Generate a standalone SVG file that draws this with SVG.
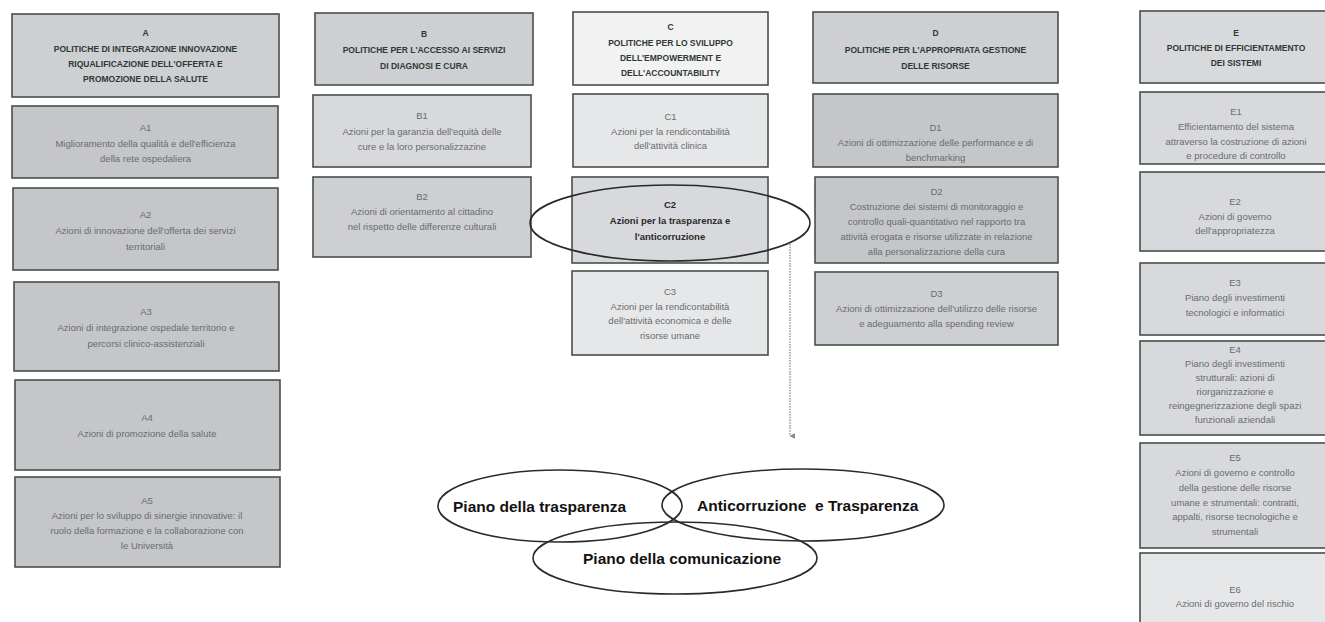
<svg xmlns="http://www.w3.org/2000/svg" width="1325" height="622" viewBox="0 0 1325 622">
<defs>
<style>
.bx{stroke:#48504a;stroke-width:1.6}
.h{font-family:"Liberation Sans",Arial,sans-serif;font-size:8.5px;font-weight:bold;fill:#2e3a32;text-anchor:middle}
.t{font-family:"Liberation Sans",Arial,sans-serif;font-size:9.5px;fill:#6a6c6e;text-anchor:middle}
.tb{font-family:"Liberation Sans",Arial,sans-serif;font-size:9.5px;font-weight:bold;fill:#2a2a2a;text-anchor:middle}
.el{fill:none;stroke:#2a2a2a;stroke-width:1.6}
.big{font-family:"Liberation Sans",Arial,sans-serif;font-size:15.5px;font-weight:bold;fill:#111}
.g1{fill:#c4c6c9}.g2{fill:#cdcfd2}.g3{fill:#d8d9dc}.g4{fill:#e6e7e9}.g5{fill:#f2f2f3}
</style>
<marker id="ah" viewBox="0 0 10 10" refX="5" refY="9" markerWidth="6" markerHeight="6" orient="auto-start-reverse" markerUnits="userSpaceOnUse">
<path d="M0,0 L10,0 L5,10 Z" fill="#888"/>
</marker>
</defs>
<rect width="1325" height="622" fill="#ffffff"/>

<g id="A">
<rect class="bx g2" x="12" y="14" width="267" height="83"/>
<text class="h"><tspan x="145.5" y="36">A</tspan><tspan x="145.5" y="52">POLITICHE DI INTEGRAZIONE INNOVAZIONE</tspan><tspan x="145.5" y="67">RIQUALIFICAZIONE DELL'OFFERTA E</tspan><tspan x="145.5" y="82">PROMOZIONE DELLA SALUTE</tspan></text>
</g>
<g id="A1">
<rect class="bx g1" x="12" y="106" width="266" height="72"/>
<text class="t"><tspan x="145.5" y="131.4">A1</tspan><tspan x="145.5" y="146.9">Miglioramento della qualità e dell'efficienza</tspan><tspan x="145.5" y="162.4">della rete ospedaliera</tspan></text>
</g>
<g id="A2">
<rect class="bx g1" x="13" y="188" width="265" height="82"/>
<text class="t"><tspan x="145.5" y="218.4">A2</tspan><tspan x="145.5" y="234.4">Azioni di innovazione dell'offerta dei servizi</tspan><tspan x="145.5" y="250.4">territoriali</tspan></text>
</g>
<g id="A3">
<rect class="bx g1" x="14" y="282" width="265" height="89"/>
<text class="t"><tspan x="146" y="315.4">A3</tspan><tspan x="146" y="331.4">Azioni di integrazione ospedale territorio e</tspan><tspan x="146" y="347.4">percorsi clinico-assistenziali</tspan></text>
</g>
<g id="A4">
<rect class="bx g1" x="15" y="380" width="265" height="90"/>
<text class="t"><tspan x="147" y="421.4">A4</tspan><tspan x="147" y="437.4">Azioni di promozione della salute</tspan></text>
</g>
<g id="A5">
<rect class="bx g1" x="15" y="477" width="265" height="90"/>
<text class="t"><tspan x="147" y="504.4">A5</tspan><tspan x="147" y="519.4">Azioni per lo sviluppo di sinergie innovative: il</tspan><tspan x="147" y="534.4">ruolo della formazione e la collaborazione con</tspan><tspan x="147" y="549.4">le Università</tspan></text>
</g>

<g id="B">
<rect class="bx g2" x="315" y="13" width="218" height="72"/>
<text class="h"><tspan x="424" y="37">B</tspan><tspan x="424" y="53">POLITICHE PER L'ACCESSO AI SERVIZI</tspan><tspan x="424" y="69">DI DIAGNOSI E CURA</tspan></text>
</g>
<g id="B1">
<rect class="bx g3" x="313" y="95" width="218" height="72"/>
<text class="t"><tspan x="422" y="119.4">B1</tspan><tspan x="422" y="134.9">Azioni per la garanzia dell'equità delle</tspan><tspan x="422" y="150.4">cure e la loro personalizzazine</tspan></text>
</g>
<g id="B2">
<rect class="bx g2" x="313" y="177" width="218" height="80"/>
<text class="t"><tspan x="422" y="200.4">B2</tspan><tspan x="422" y="215.4">Azioni di orientamento al cittadino</tspan><tspan x="422" y="230.4">nel rispetto delle differenze culturali</tspan></text>
</g>

<g id="C">
<rect class="bx g5" x="573" y="12" width="195" height="73"/>
<text class="h"><tspan x="670.5" y="30">C</tspan><tspan x="670.5" y="46">POLITICHE PER LO SVILUPPO</tspan><tspan x="670.5" y="61">DELL'EMPOWERMENT E</tspan><tspan x="670.5" y="76">DELL'ACCOUNTABILITY</tspan></text>
</g>
<g id="C1">
<rect class="bx g4" x="573" y="94" width="195" height="73"/>
<text class="t"><tspan x="670.5" y="120.4">C1</tspan><tspan x="670.5" y="135.4">Azioni per la rendicontabilità</tspan><tspan x="670.5" y="149.4">dell'attività clinica</tspan></text>
</g>
<g id="C2">
<rect class="bx g3" x="572" y="177" width="196" height="86"/>
<text class="tb"><tspan x="670" y="208.4">C2</tspan><tspan x="670" y="224.4">Azioni per la trasparenza e</tspan><tspan x="670" y="240.4">l'anticorruzione</tspan></text>
</g>
<g id="C3">
<rect class="bx g4" x="572" y="271" width="196" height="84"/>
<text class="t"><tspan x="670" y="295.4">C3</tspan><tspan x="670" y="309.9">Azioni per la rendicontabilità</tspan><tspan x="670" y="324.4">dell'attività economica e delle</tspan><tspan x="670" y="338.9">risorse umane</tspan></text>
</g>

<g id="D">
<rect class="bx g2" x="813" y="12" width="245" height="71"/>
<text class="h"><tspan x="935.5" y="36">D</tspan><tspan x="935.5" y="53">POLITICHE PER L'APPROPRIATA GESTIONE</tspan><tspan x="935.5" y="69">DELLE RISORSE</tspan></text>
</g>
<g id="D1">
<rect class="bx g1" x="813" y="94" width="245" height="73"/>
<text class="t"><tspan x="935.5" y="131.4">D1</tspan><tspan x="935.5" y="146.4">Azioni di ottimizzazione delle performance e di</tspan><tspan x="935.5" y="161.4">benchmarking</tspan></text>
</g>
<g id="D2">
<rect class="bx g1" x="815" y="177" width="243" height="86"/>
<text class="t"><tspan x="936.5" y="195.4">D2</tspan><tspan x="936.5" y="210.4">Costruzione dei sistemi di monitoraggio e</tspan><tspan x="936.5" y="225.4">controllo quali-quantitativo nel rapporto tra</tspan><tspan x="936.5" y="240.4">attività erogata e risorse utilizzate in relazione</tspan><tspan x="936.5" y="255.4">alla personalizzazione della cura</tspan></text>
</g>
<g id="D3">
<rect class="bx g2" x="815" y="272" width="243" height="73"/>
<text class="t"><tspan x="936.5" y="297.4">D3</tspan><tspan x="936.5" y="312.4">Azioni di ottimizzazione dell'utilizzo delle risorse</tspan><tspan x="936.5" y="327.4">e adeguamento alla spending review</tspan></text>
</g>

<g id="E">
<rect class="bx g3" x="1140" y="11" width="192" height="72"/>
<text class="h"><tspan x="1236" y="36">E</tspan><tspan x="1236" y="51">POLITICHE DI EFFICIENTAMENTO</tspan><tspan x="1236" y="66">DEI SISTEMI</tspan></text>
</g>
<g id="E1">
<rect class="bx g3" x="1140" y="92" width="192" height="72"/>
<text class="t"><tspan x="1236" y="115.4">E1</tspan><tspan x="1236" y="130.4">Efficientamento del sistema</tspan><tspan x="1236" y="145.4">attraverso la costruzione di azioni</tspan><tspan x="1236" y="159.4">e procedure di controllo</tspan></text>
</g>
<g id="E2">
<rect class="bx g3" x="1140" y="172" width="192" height="79"/>
<text class="t"><tspan x="1235" y="205.4">E2</tspan><tspan x="1235" y="220.4">Azioni di governo</tspan><tspan x="1235" y="234.4">dell'appropriatezza</tspan></text>
</g>
<g id="E3">
<rect class="bx g3" x="1140" y="263" width="192" height="72"/>
<text class="t"><tspan x="1235" y="286.4">E3</tspan><tspan x="1235" y="301.4">Piano degli investimenti</tspan><tspan x="1235" y="316.4">tecnologici e informatici</tspan></text>
</g>
<g id="E4">
<rect class="bx g3" x="1140" y="341" width="192" height="94"/>
<text class="t"><tspan x="1235" y="353.4">E4</tspan><tspan x="1235" y="367.4">Piano degli investimenti</tspan><tspan x="1235" y="381.4">strutturali: azioni di</tspan><tspan x="1235" y="395.4">riorganizzazione e</tspan><tspan x="1235" y="409.4">reingegnerizzazione degli spazi</tspan><tspan x="1235" y="423.4">funzionali aziendali</tspan></text>
</g>
<g id="E5">
<rect class="bx g3" x="1140" y="443" width="192" height="105"/>
<text class="t"><tspan x="1235" y="461.4">E5</tspan><tspan x="1235" y="476.4">Azioni di governo e controllo</tspan><tspan x="1235" y="491.4">della gestione delle risorse</tspan><tspan x="1235" y="506.4">umane e strumentali: contratti,</tspan><tspan x="1235" y="520.4">appalti, risorse tecnologiche e</tspan><tspan x="1235" y="535.4">strumentali</tspan></text>
</g>
<g id="E6">
<rect class="bx g4" x="1140" y="553" width="192" height="80"/>
<text class="t"><tspan x="1235" y="593.4">E6</tspan><tspan x="1235" y="607.4">Azioni di governo del rischio</tspan></text>
</g>

<g id="connectors">
<ellipse class="el" cx="670" cy="223" rx="140" ry="38" stroke="#3a3a3a"/>
<line x1="790" y1="244" x2="790" y2="436" stroke="#888" stroke-width="1.3" stroke-dasharray="1.5 1.2" marker-end="url(#ah)"/>
</g>

<g id="trasparenza">
<ellipse class="el" cx="560" cy="506" rx="122" ry="36"/>
<text class="big" x="453" y="512">Piano della trasparenza</text>
</g>
<g id="anticorruzione">
<ellipse class="el" cx="803" cy="505" rx="141" ry="36"/>
<text class="big" x="697" y="511" xml:space="preserve">Anticorruzione  e Trasparenza</text>
</g>
<g id="comunicazione">
<ellipse class="el" cx="675" cy="558" rx="142" ry="36"/>
<text class="big" x="583" y="564">Piano della comunicazione</text>
</g>
</svg>
